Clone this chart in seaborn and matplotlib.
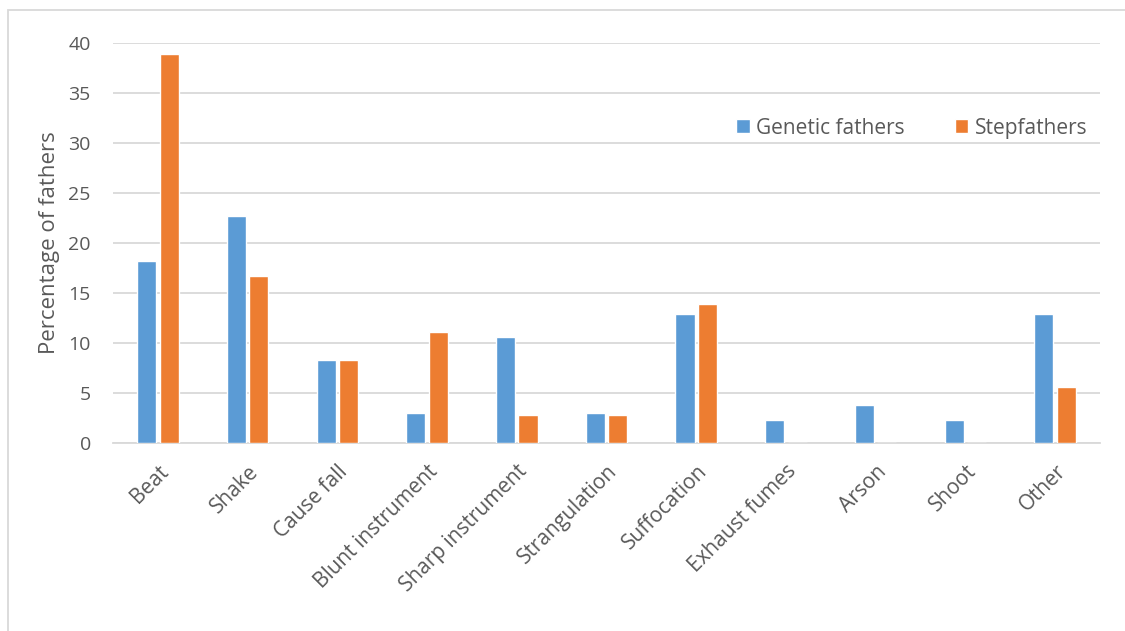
import pandas as pd
import matplotlib
matplotlib.use("Agg")
import matplotlib.pyplot as plt
import seaborn as sns
from matplotlib.patches import Rectangle

# Data
methods = ["Beat", "Shake", "Cause fall", "Blunt instrument", "Sharp instrument",
           "Strangulation", "Suffocation", "Exhaust fumes", "Arson", "Shoot", "Other"]
genetic = [18.2, 22.7, 8.3, 3.0, 10.6, 3.0, 12.9, 2.3, 3.8, 2.3, 12.9]
step = [38.9, 16.7, 8.3, 11.1, 2.8, 2.8, 13.9, 0, 0, 0, 5.6]
series = ["Genetic fathers", "Stepfathers"]

df = pd.DataFrame({
    "Method": methods * 2,
    "Percentage": genetic + step,
    "Father": [series[0]] * len(methods) + [series[1]] * len(methods),
})

sns.set_style("white")
plt.rcParams["font.family"] = ["Open Sans", "DejaVu Sans"]
text_col = "#595959"

fig = plt.figure(figsize=(11.25, 6.31), dpi=100)
ax = fig.add_axes([113 / 1125, 1 - 443 / 631, (1100 - 113) / 1125, 400 / 631])

sns.barplot(data=df, x="Method", y="Percentage", hue="Father",
            palette=["#5B9BD5", "#ED7D31"], width=0.5, gap=0.15,
            ax=ax, zorder=3, saturation=1)

ax.set_ylim(0, 40)
ax.set_yticks(range(0, 41, 5))
ax.yaxis.grid(True, color="#D9D9D9", linewidth=1.3, zorder=0)
ax.set_axisbelow(True)
for s in ["top", "right", "left"]:
    ax.spines[s].set_visible(False)
ax.spines["bottom"].set_color("#D9D9D9")
ax.spines["bottom"].set_linewidth(1.3)
ax.tick_params(axis="both", length=0, colors=text_col)
ax.tick_params(axis="y", pad=16, labelsize=14)
ax.tick_params(axis="x", pad=13, labelsize=15)
plt.setp(ax.get_xticklabels(), rotation=45, ha="right", rotation_mode="anchor")

ax.set_xlabel("")
ax.set_ylabel("Percentage of fathers", fontsize=16, color=text_col, labelpad=6)

leg = ax.legend(loc="upper right", bbox_to_anchor=(1.006, 0.86), ncol=2, frameon=False,
                fontsize=15, handlelength=0.65, handleheight=0.65, columnspacing=2.4,
                handletextpad=0.3)
for t in leg.get_texts():
    t.set_color(text_col)

# light frame around the chart area
fig.patches.append(Rectangle((8 / 1125, -0.01), 1.1, 1 - 10 / 631 + 0.01,
                             transform=fig.transFigure, fill=False,
                             edgecolor="#D9D9D9", linewidth=1.3))

fig.savefig("out.png", dpi=100)
